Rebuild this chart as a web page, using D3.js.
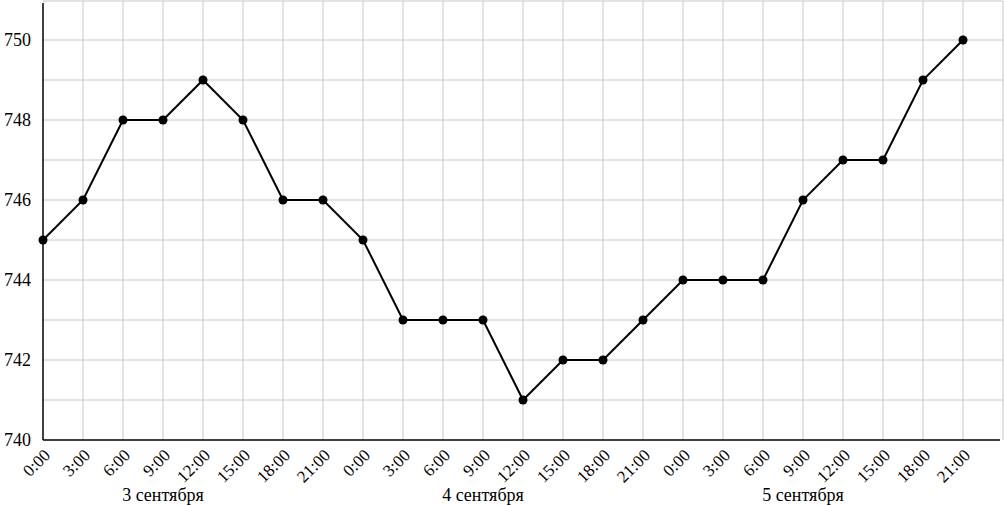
<!DOCTYPE html>
<html><head><meta charset="utf-8">
<script src="https://cdn.jsdelivr.net/npm/d3@7"></script>
<style>body{margin:0;background:#fff}svg{display:block}</style>
</head><body><svg id="c" width="1004" height="505"></svg>
<script>
const hours = ["0:00","3:00","6:00","9:00","12:00","15:00","18:00","21:00"];
const days = ["3 сентября","4 сентября","5 сентября"];
const pressure = [745,746,748,748,749,748,746,746,745,743,743,743,741,742,742,743,744,744,744,746,747,747,749,750];
const yTicks = [740,742,744,746,748,750];

const FONT = "'DejaVu Serif', 'Liberation Serif', serif";
const svg = d3.select("#c");
const n = pressure.length;
const x = d3.scaleLinear().domain([0, n]).range([43, 1003]);
const y = d3.scaleLinear().domain([740, 751]).range([440, 0]);

const g = svg.append("g").attr("font-family", "Liberation Serif");
// grid
g.selectAll(".vg").data(d3.range(1, n + 1)).enter().append("line")
  .attr("x1", d => x(d)).attr("x2", d => x(d)).attr("y1", y(751) + 1).attr("y2", y(740))
  .attr("stroke", "#c8c8c8").attr("stroke-width", 1);
g.selectAll(".hg").data(d3.range(741, 752)).enter().append("line")
  .attr("x1", x(0)).attr("x2", x(n)).attr("y1", d => y(d) + (d === 751 ? 1 : 0)).attr("y2", d => y(d) + (d === 751 ? 1 : 0))
  .attr("stroke", "#c8c8c8").attr("stroke-width", 1);

// axes
g.append("line").attr("x1", x(0)).attr("x2", x(0)).attr("y1", 3).attr("y2", y(740)).attr("stroke", "#000").attr("stroke-width", 1.5);
g.append("line").attr("x1", x(0)).attr("x2", 1000).attr("y1", y(740)).attr("y2", y(740)).attr("stroke", "#000").attr("stroke-width", 1.5);

// y labels
g.selectAll(".yl").data(yTicks).enter().append("text")
  .attr("x", 31).attr("y", d => y(d)).attr("dy", "0.35em").attr("text-anchor", "end")
  .attr("font-size", 18).text(d => d);

// x tick labels
const labels = d3.range(n).map(i => hours[i % 8]);
g.selectAll(".xl").data(labels).enter().append("text")
  .attr("transform", (d, i) => `translate(${x(i) + 4},${y(740) + 12}) rotate(-45)`)
  .attr("text-anchor", "end").attr("dy", "0.35em")
  .attr("font-size", 17).text(d => d);

// day labels
g.selectAll(".dl").data(days).enter().append("text")
  .attr("x", (d, i) => x(i * 8 + 3)).attr("y", 501).attr("text-anchor", "middle")
  .attr("font-size", 18).text(d => d);

// line
const line = d3.line().x((d, i) => x(i)).y(d => y(d));
g.append("path").datum(pressure).attr("d", line).attr("fill", "none").attr("stroke", "#000").attr("stroke-width", 2);
g.selectAll(".pt").data(pressure).enter().append("circle")
  .attr("cx", (d, i) => x(i)).attr("cy", d => y(d)).attr("r", 4.5).attr("fill", "#000");
</script></body></html>
